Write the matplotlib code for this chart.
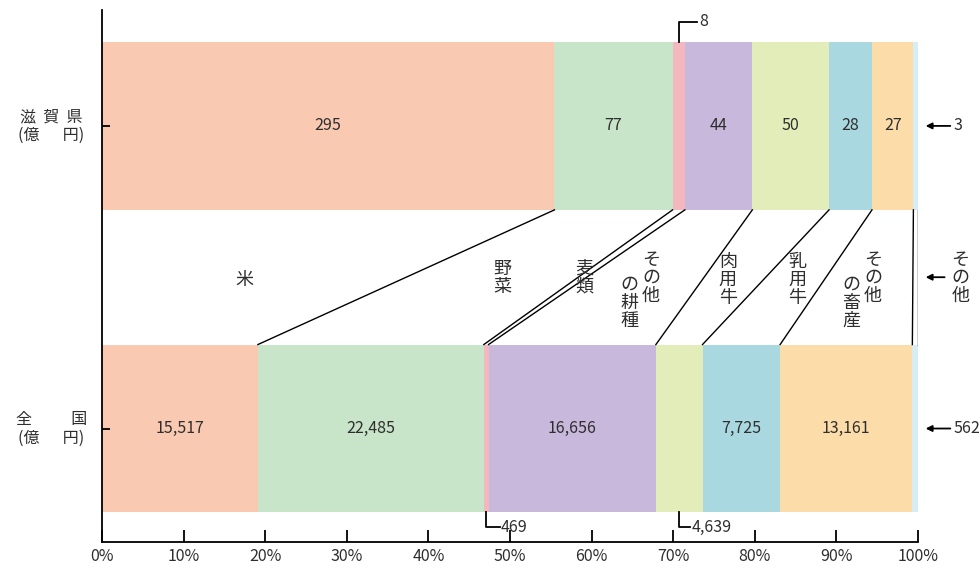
import matplotlib.pyplot as plt
import numpy as np

plt.rcParams['font.family'] = ['Noto Sans CJK JP', 'DejaVu Sans']

categories = ['米', '野菜', '麦類', 'その他の耕種', '肉用牛', '乳用牛', 'その他の畜産', 'その他']
shiga = [295, 77, 8, 44, 50, 28, 27, 3]
zenkoku = [15517, 22485, 469, 16656, 4639, 7725, 13161, 562]
colors = ['#f9c9b1', '#c9e5c9', '#f3b8bd', '#c8b8db', '#e3edba', '#aad8e1', '#fcdca9', '#d6edf4']
row_labels = ['滋  賀  県\n(億　  円)', '全　　  国\n(億　  円)']
tick_pct = [0, 10, 20, 30, 40, 50, 60, 70, 80, 90, 100]

# vertical category labels between the bars: (text columns, x in %, y)
mid_labels = [
    ('米', 17.5, 0.49),
    ('野\n菜', 49.1, 0.497),
    ('麦\n類', 59.1, 0.50),
    ('そ\nの\n他', 67.3, 0.497),
    ('の\n耕\n種', 64.6, 0.415),
    ('肉\n用\n牛', 76.7, 0.49),
    ('乳\n用\n牛', 85.2, 0.49),
    ('そ\nの\n他', 94.5, 0.497),
    ('の\n畜\n産', 91.8, 0.415),
]

tc = '#2e2e2e'
h = 0.555

fig = plt.figure(figsize=(9.8, 5.7), dpi=100)
ax = fig.add_axes([102 / 980, 28 / 570, 816 / 980, 532 / 570])

rows = [(1, shiga), (0, zenkoku)]
cums = []
for y, vals in rows:
    vals = np.array(vals, dtype=float)
    pct = vals / vals.sum() * 100
    left = np.concatenate([[0], np.cumsum(pct)[:-1]])
    cums.append(np.cumsum(pct))
    ax.barh(y, pct, left=left, height=h, color=colors, edgecolor='none')
    for i, v in enumerate(vals):
        c = left[i] + pct[i] / 2
        if y == 1 and i in (0, 1, 3, 4, 5, 6):
            ax.text(c, y, f'{int(v)}', ha='center', va='center', fontsize=11.5, color=tc)
        if y == 0 and i in (0, 1, 3, 5, 6):
            ax.text(c, y, f'{int(v):,}', ha='center', va='center', fontsize=11.5, color=tc)

# connecting lines between the two bars
for a, b in zip(cums[0], cums[1]):
    ax.plot([a, b], [1 - h / 2, h / 2], color='black', lw=1)

# leaders for small segments
s_pct = np.array(shiga) / sum(shiga) * 100
z_pct = np.array(zenkoku) / sum(zenkoku) * 100
x8 = s_pct[:2].sum() + s_pct[2] / 2
ax.plot([x8, x8, 72.9], [1 + h / 2, 1.344, 1.344], color='black', lw=1.3, clip_on=False)
ax.text(73.2, 1.344, '8', ha='left', va='center', fontsize=11.5, color=tc)

x469 = z_pct[:2].sum() + z_pct[2] / 2
ax.plot([x469, x469, 48.8], [-h / 2, -0.326, -0.326], color='black', lw=1.3)
ax.text(48.9, -0.326, '469', ha='left', va='center', fontsize=11.5, color=tc)

x4639 = z_pct[:4].sum() + z_pct[4] / 2
ax.plot([x4639, x4639, 72.1], [-h / 2, -0.326, -0.326], color='black', lw=1.3)
ax.text(72.2, -0.326, '4,639', ha='left', va='center', fontsize=11.5, color=tc)

# arrows on the right
for y, txt in [(1, f'{shiga[-1]}'), (0, f'{zenkoku[-1]}')]:
    ax.annotate('', xy=(100.6, y), xytext=(104.3, y),
                arrowprops=dict(arrowstyle='-|>', color='black', lw=1.3, mutation_scale=9),
                annotation_clip=False)
    ax.text(104.4, y, txt, ha='left', va='center', fontsize=11.5, color=tc, clip_on=False)

ax.annotate('', xy=(100.6, 0.5), xytext=(103.6, 0.5),
            arrowprops=dict(arrowstyle='-|>', color='black', lw=1.3, mutation_scale=9),
            annotation_clip=False)
ax.text(105.2, 0.497, 'そ\nの\n他', ha='center', va='center', fontsize=13,
        color=tc, linespacing=1.0, clip_on=False)

for txt, x, y in mid_labels:
    ax.text(x, y, txt, ha='center', va='center', fontsize=13, color=tc, linespacing=1.0)

for (y, _), lab in zip(rows, row_labels):
    ax.text(-6.2, y, lab, ha='center', va='center', fontsize=11.5, color=tc,
            linespacing=1.15, clip_on=False)

ax.set_xlim(0, 100)
ax.set_ylim(-0.375, 1.383)
ax.set_xticks(tick_pct)
ax.set_xticklabels([f'{t}%' for t in tick_pct], fontsize=11.5, color=tc)
ax.set_yticks([0, 1])
ax.set_yticklabels([])
ax.tick_params(axis='x', direction='in', length=9, width=1.3, pad=4)
ax.tick_params(axis='y', direction='in', length=6, width=1.3)
ax.spines['top'].set_visible(False)
ax.spines['right'].set_visible(False)
ax.spines['left'].set_linewidth(1.3)
ax.spines['bottom'].set_linewidth(1.3)

fig.savefig('out.png', dpi=100)
